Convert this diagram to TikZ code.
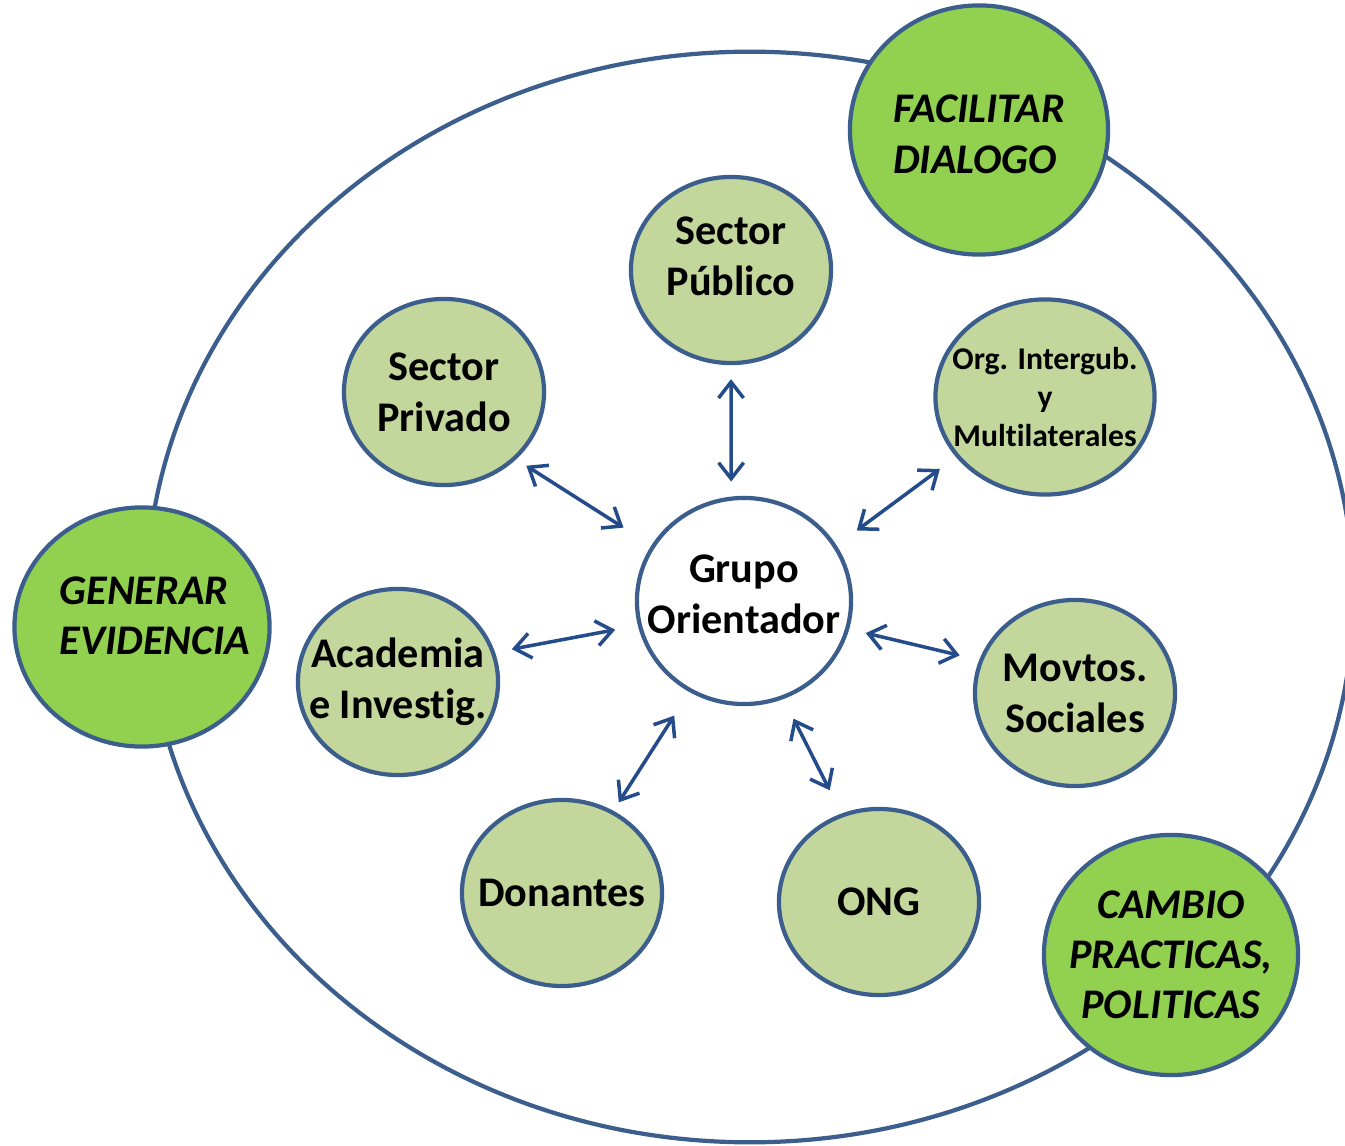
\documentclass[tikz,border=0pt]{standalone}
\usepackage{fontspec}
\setmainfont{Carlito}[Ligatures=NoCommon]
\usepackage{tikz}
\usetikzlibrary{shapes.geometric,arrows.meta}
\definecolor{borde}{RGB}{59,94,140}
\definecolor{azulflecha}{RGB}{36,76,138}
\definecolor{verdeclaro}{RGB}{195,214,155}
\definecolor{verde}{RGB}{146,208,80}
\newcommand{\bajo}[1]{\rule[-#1]{0pt}{#1}}
\tikzset{actor/.style={ellipse,draw=borde,line width=1.2pt,fill=verdeclaro,inner sep=-1cm,minimum width=2cm,minimum height=1.86cm,align=center,font=\bfseries\fontsize{12}{14.5}\selectfont},
	 accion/.style={ellipse,draw=borde,line width=1.2pt,fill=verde,inner sep=-1cm,minimum width=2.56cm,minimum height=2.4cm,font=\bfseries\itshape\fontsize{12}{14.3}\selectfont},
	 centro/.style={actor,fill=white,minimum width=2.14cm,minimum height=2.06cm},
	 flecha/.style={draw=azulflecha,line width=1pt,>={Straight Barb[length=0.16cm,width=0.25cm]},<->}
	 }
\begin{document}
\begin{tikzpicture}[x=0.01cm,y=-0.01cm] % grupo orientador
        \useasboundingbox (0,0) rectangle (1345,1146);
        \draw[borde,line width=1.2pt] (750,597) ellipse [x radius=6.03cm,y radius=5.45cm];
        \node[accion,align=left,minimum width=2.58cm,minimum height=2.49cm] (fac) at (979,130) {\rule{0pt}{0.36cm}FACILITAR\\DIALOGO};
        \node[accion,align=left,minimum width=2.55cm,minimum height=2.39cm] (gen) at (142,627) {\hspace*{0.26cm}GENERAR\\\hspace*{0.26cm}EVIDENCIA\bajo{0.22cm}};
        \node[accion,align=center,minimum width=2.54cm,minimum height=2.4cm] (cam) at (1171,955) {CAMBIO\\PRACTICAS,\\POLITICAS};
        \node[actor] (pub) at (731,270) {Sector\\Público\bajo{0.28cm}};
        \node[actor] (priv) at (444,392) {Sector\\Privado};
        \node[actor,minimum width=2.19cm,minimum height=1.95cm,font=\bfseries\fontsize{9}{10.9}\selectfont] (org) at (1045,397) {Org. Intergub.\\y\\Multilaterales};
        \node[centro] (grp) at (744,601) {Grupo\\Orientador\bajo{0.13cm}};
        \node[actor] (acad) at (398,682) {Academia\\e Investig.};
        \node[actor] (mov) at (1075,693) {Movtos.\\Sociales};
        \node[actor] (don) at (562,893) {Donantes};
        \node[actor] (ong) at (879,902) {ONG};
        \draw[flecha,shorten <=0.14cm,shorten >=0.15cm] (pub.-90) -- (grp.97);
        \draw[flecha,shorten <=0.12cm,shorten >=0.33cm] (priv.-43) -- (grp.149);
        \draw[flecha,shorten <=0.25cm,shorten >=0.2cm] (grp.31) -- (org.214);
        \draw[flecha,shorten <=0.17cm,shorten >=0.23cm] (acad.17) -- (grp.193);
        \draw[flecha,shorten <=0.17cm,shorten >=0.2cm] (grp.-15) -- (mov.161);
        \draw[flecha,shorten <=0.1cm,shorten >=0.28cm] (don.58) -- (grp.239);
        \draw[flecha,shorten <=0.22cm,shorten >=0.26cm] (grp.-68) -- (ong.113);
     \end{tikzpicture}
\end{document}
